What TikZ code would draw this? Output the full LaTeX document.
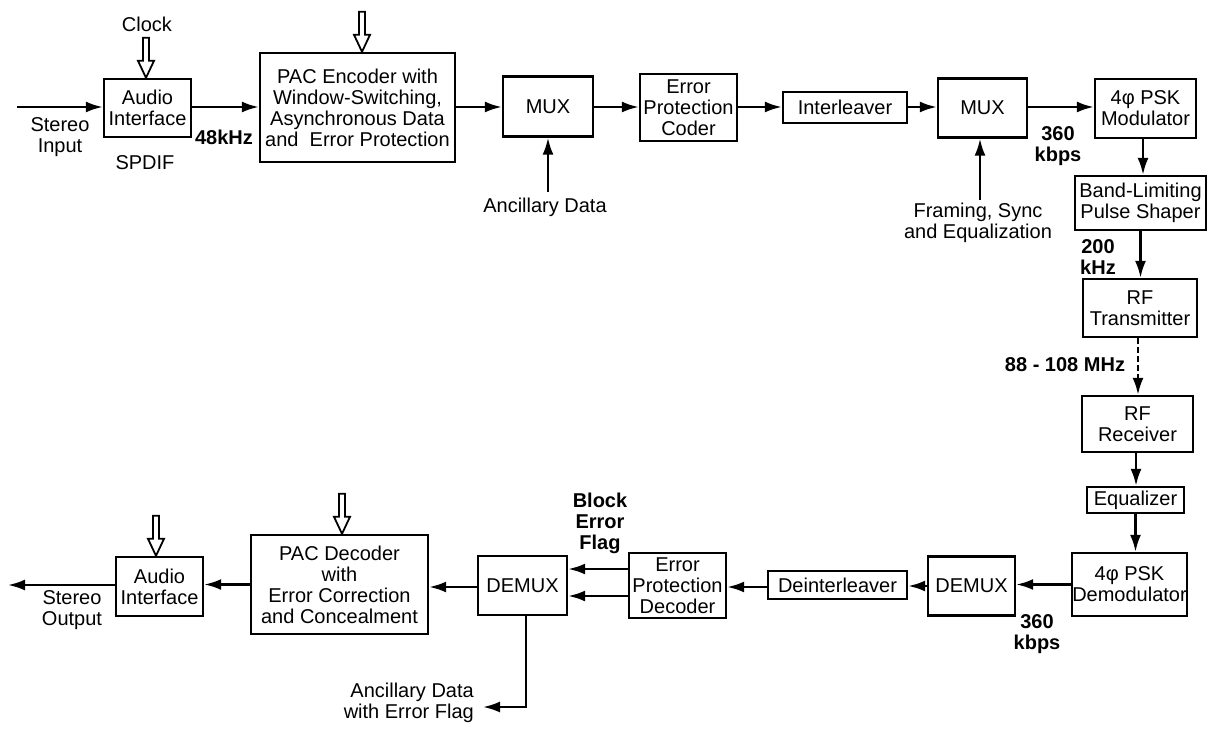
\documentclass[tikz,border=0pt]{standalone}
\usepackage{fontspec}
\setmainfont{Liberation Sans}
\usetikzlibrary{arrows.meta}
\begin{document}
\begin{tikzpicture}[x=1pt,y=-1pt,
  blk/.style={draw, line width=2.4pt, inner sep=0pt, align=center, font=\fontsize{20}{21}\selectfont},
  lbl/.style={inner sep=0pt, align=center, font=\fontsize{20}{21}\selectfont},
  blbl/.style={inner sep=0pt, align=center, font=\fontsize{20}{21}\selectfont\bfseries},
  conn/.style={line width=2.4pt, -{Latex[length=17pt,width=11pt]}},
  hollowarr/.pic={\draw[line width=1.8pt, line join=miter, fill=white] (-3,-40) -- (-3,-17) -- (-8,-17) -- (0,0) -- (8,-17) -- (3,-17) -- (3,-40) -- cycle;}
]
\useasboundingbox (0,0) rectangle (1209,730);

% ---- blocks: transmitter chain
\node[blk, minimum width=87pt, minimum height=58pt] (ai1) at (147.5,108) {Audio\\Interface};
\node[blk, minimum width=195pt, minimum height=109pt] (pac) at (357.5,107.5) {PAC Encoder with\\Window-Switching,\\Asynchronous Data\\and\ \ Error Protection};
\node[blk, minimum width=90pt, minimum height=60pt] (mux1) at (548,106.5) {MUX};
\node[blk, minimum width=97pt, minimum height=67pt] (epc) at (688.5,107.5) {Error\\Protection\\Coder};
\node[blk, minimum width=124pt, minimum height=31pt] (intl) at (845,107.5) {Interleaver};
\node[blk, minimum width=89pt, minimum height=59pt] (mux2) at (982.5,108) {MUX};
\node[blk, minimum width=101pt, minimum height=59pt] (psk) at (1145.5,108.5) {4φ PSK\\Modulator};
\node[blk, minimum width=131pt, minimum height=54pt] (bl) at (1140.5,203) {Band-Limiting\\Pulse Shaper};
\node[blk, minimum width=114pt, minimum height=58pt] (rft) at (1140,308) {RF\\Transmitter};

% ---- blocks: receiver chain
\node[blk, minimum width=111pt, minimum height=56pt] (rfr) at (1137.5,424) {RF\\Receiver};
\node[blk, minimum width=97pt, minimum height=26pt] (eq) at (1135.5,500) {Equalizer};
\node[blk, minimum width=115pt, minimum height=63pt] (demod) at (1129.5,584.5) {4φ PSK\\Demodulator};
\node[blk, minimum width=87pt, minimum height=59pt] (demux2) at (971.5,586) {DEMUX};
\node[blk, minimum width=139pt, minimum height=28pt] (deint) at (837.5,585) {Deinterleaver};
\node[blk, minimum width=97pt, minimum height=65pt] (epd) at (677.5,585.5) {Error\\Protection\\Decoder};
\node[blk, minimum width=89pt, minimum height=59pt] (demux1) at (522.5,585.5) {DEMUX};
\node[blk, minimum width=177pt, minimum height=99pt] (pacd) at (339.5,584.5) {PAC Decoder\\with\\Error Correction\\and Concealment};
\node[blk, minimum width=87pt, minimum height=59pt] (ai2) at (159.5,586.5) {Audio\\Interface};

% ---- labels
\node[lbl] (stin) at (60,137) {Stereo\\Input};
\node[lbl] (spdif) at (145,163) {SPDIF};
\node[blbl] (f48) at (224,137) {48kHz};
\node[lbl] (clock) at (147,24) {Clock};
\node[lbl] (ancl) at (545,207) {Ancillary Data};
\node[lbl] (frl) at (978,223) {Framing, Sync\\and Equalization};
\node[blbl] (r1) at (1058,146) {360\\kbps};
\node[blbl] (r2) at (1098,257) {200\\kHz};
\node[blbl] (r3) at (1065,365) {88 - 108 MHz};
\node[blbl] (r4) at (1037,634) {360\\kbps};
\node[blbl] (bef) at (600,523) {Block\\Error\\Flag};
\node[lbl, align=right, anchor=east] (anco) at (474,703) {Ancillary Data\\with Error Flag};
\node[lbl] (stout) at (72,610) {Stereo\\Output};

% ---- free ends
\coordinate (in) at (17,107);
\coordinate (ancsrc) at (548,192);
\coordinate (frsrc) at (980,200);
\coordinate (ancdst) at (483,707);
\coordinate (out) at (8,585);

% ---- top row connectors
\draw[conn] (in) -- (in -| ai1.west);
\draw[conn] (ai1.east |- in) -- (in -| pac.west);
\draw[conn] (pac.east |- in) -- (in -| mux1.west);
\draw[conn] (mux1.east |- in) -- (in -| epc.west);
\draw[conn] (epc.east |- in) -- (in -| intl.west);
\draw[conn] (intl.east |- in) -- (in -| mux2.west);
\draw[conn] (mux2.east |- in) -- (in -| psk.west);
\draw[conn] (ancsrc) -- (ancsrc |- mux1.south);
\draw[conn] (frsrc) -- (frsrc |- mux2.south);

% ---- right column
\draw[conn] ([xshift=-2.5pt]psk.south) -- ([xshift=-2.5pt]psk.south |- bl.north);
\draw[conn] (bl.south) -- (bl.south |- rft.north);
\draw[conn, dash pattern=on 6pt off 3pt] ([xshift=-2pt]rft.south) -- ([xshift=-2pt]rft.south |- rfr.north);
\draw[conn] ([xshift=-1.5pt]rfr.south) -- ([xshift=-1.5pt]rfr.south |- eq.north);
\draw[conn] (eq.south) -- (eq.south |- demod.north);

% ---- bottom row
\draw[conn] (demod.west) -- (demod.west -| demux2.east);
\draw[conn] (demux2.west) -- (demux2.west -| deint.east);
\draw[conn] ([yshift=-2pt]deint.west) -- ([yshift=-2pt]deint.west -| epd.east);
\draw[conn] ([yshift=16.5pt]epd.west) -- ([yshift=16.5pt]epd.west -| demux1.east);
\draw[conn] ([yshift=-10.5pt]epd.west) -- ([yshift=-10.5pt]epd.west -| demux1.east);
\draw[conn] ([yshift=-1.5pt]demux1.west) -- ([yshift=-1.5pt]demux1.west -| pacd.east);
\draw[conn] (pacd.west) -- (pacd.west -| ai2.east);
\draw[conn] (ai2.west |- out) -- (out);
\draw[conn] ([xshift=3.5pt]demux1.south) |- (ancdst);

% ---- hollow control arrows
\pic at ([xshift=-1.5pt]ai1.north) {hollowarr};
\pic at ([xshift=4.5pt]pac.north) {hollowarr};
\pic at ([xshift=2.5pt]pacd.north) {hollowarr};
\pic at ([xshift=-3.5pt]ai2.north) {hollowarr};
\end{tikzpicture}
\end{document}
